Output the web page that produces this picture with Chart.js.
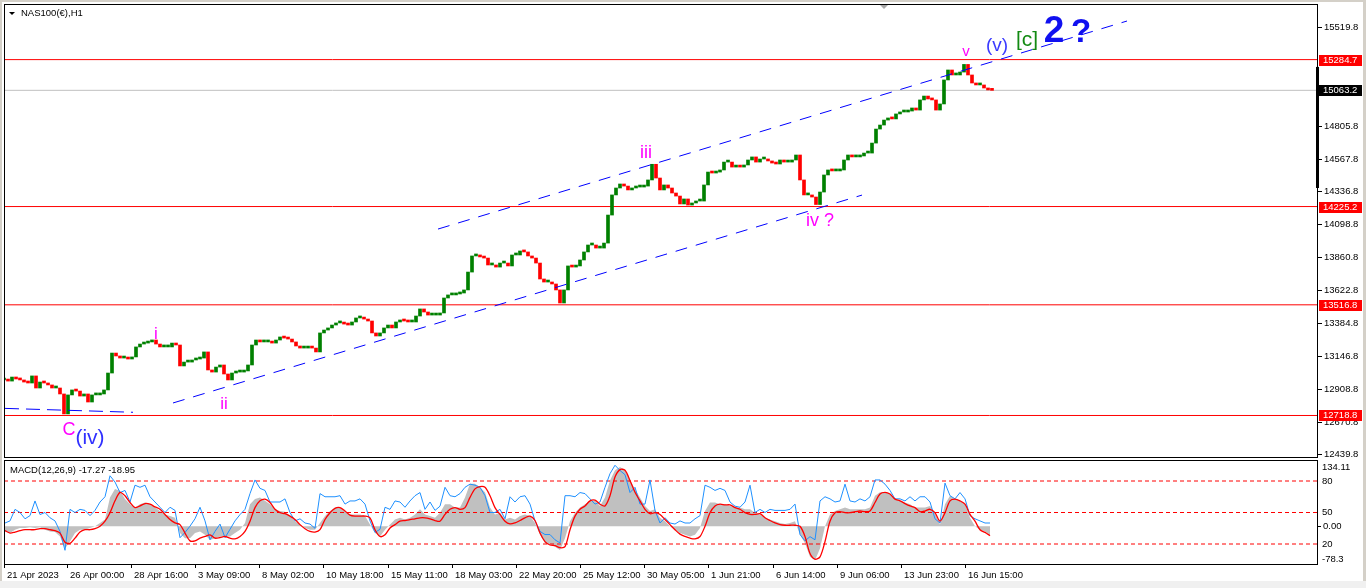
<!DOCTYPE html>
<html>
<head>
<meta charset="utf-8">
<script src="https://cdn.jsdelivr.net/npm/chart.js@4.4.1/dist/chart.umd.min.js"></script>
<style>
  html, body { margin: 0; padding: 0; background: #fff; width: 1366px; height: 588px; overflow: hidden; }
  #wrap { position: relative; width: 1366px; height: 588px; }
  #priceBox { position: absolute; left: 0; top: 0; width: 1366px; height: 460px; }
  #macdBox { position: absolute; left: 0; top: 458px; width: 1366px; height: 123px; }
  .edge { position: absolute; background: #d4d0c8; }
</style>
</head>
<body>
<div id="wrap">
  <div id="priceBox"><canvas id="priceChart"></canvas></div>
  <div id="macdBox"><canvas id="macdChart"></canvas></div>
  <div class="edge" style="left:0;top:0;width:2px;height:588px"></div>
  <div class="edge" style="left:0;top:0;width:1366px;height:2px"></div>
  <div class="edge" style="left:1363px;top:0;width:3px;height:588px"></div>
  <div class="edge" style="left:0;top:581px;width:1366px;height:7px;background:#f0f0f0"></div>
</div>
<script>
// NAS100(€) H1 – price panel, closes read every 4 bars
const BAR_STEP = 4;
const CLOSES = [
  12975, 12967, 12996, 12982, 12975, 12960, 12953, 13004, 12917, 12960,
  12953, 12939, 12917, 12917, 12874, 12730, 12867, 12903, 12895, 12859,
  12874, 12816, 12867, 12867, 12874, 12903, 13025, 13169, 13148, 13133,
  13133, 13126, 13141, 13213, 13234, 13241, 13249, 13263, 13234, 13213,
  13213, 13213, 13241, 13227, 13076, 13104, 13104, 13119, 13126, 13133,
  13177, 13047, 13032, 13068, 13083, 13018, 12975, 13025, 13032, 13032,
  13040, 13083, 13227, 13263, 13249, 13249, 13249, 13241, 13263, 13285,
  13277, 13270, 13249, 13220, 13205, 13205, 13213, 13205, 13177, 13314,
  13335, 13350, 13371, 13386, 13386, 13378, 13371, 13393, 13422, 13422,
  13414, 13400, 13314, 13292, 13314, 13350, 13371, 13350, 13393, 13407,
  13400, 13393, 13393, 13436, 13487, 13465, 13443, 13443, 13443, 13458,
  13566, 13588, 13588, 13595, 13602, 13624, 13753, 13869, 13876, 13862,
  13854, 13804, 13804, 13789, 13818, 13818, 13797, 13876, 13876, 13905,
  13898, 13869, 13854, 13818, 13703, 13681, 13681, 13667, 13624, 13530,
  13624, 13797, 13789, 13797, 13840, 13898, 13948, 13948, 13926, 13926,
  13962, 14164, 14309, 14359, 14388, 14373, 14345, 14359, 14366, 14366,
  14373, 14417, 14530, 14431, 14345, 14381, 14359, 14323, 14301, 14244,
  14280, 14236, 14251, 14265, 14265, 14381, 14474, 14467, 14474, 14489,
  14546, 14546, 14510, 14518, 14510, 14525, 14561, 14583, 14546, 14568,
  14568, 14554, 14539, 14532, 14561, 14546, 14546, 14561, 14597, 14417,
  14309, 14309, 14294, 14240, 14330, 14453, 14489, 14482, 14482, 14489,
  14561, 14597, 14583, 14583, 14590, 14611, 14611, 14683, 14784, 14813,
  14849, 14864, 14857, 14893, 14907, 14907, 14914, 14936, 14921, 14994,
  15022, 15001, 14994, 14921, 14965, 15138, 15210, 15174, 15174, 15195,
  15250, 15174, 15116, 15102, 15102, 15080, 15066, 15063
];
const PRICE_TICKS = [15519.8, 14805.8, 14567.8, 14336.8, 14098.8, 13860.8, 13622.8, 13384.8, 13146.8, 12908.8, 12670.8, 12439.8];
const LEVELS = [15284.7, 14225.2, 13516.8, 12718.8];
const BID = 15063.2;
const PRICE_MIN = 12412.3;
const PRICE_MAX = 15685.7;
const X_MAX = 1314;

// trend lines, [bar index, price]
const LINE_FLAT = [[1, 12770], [129, 12742]];
const LINE_CHANNEL_LOW = [[169, 12809], [858, 14308]];
const LINE_CHANNEL_HIGH = [[434, 14063], [1123, 15563]];

const WAVE_LABELS = [
  { text: 'v', idx: 962, price: 15340, color: '#ff00ff', size: 15 },
  { text: '(v)', idx: 993, price: 15383, color: '#3a3aff', size: 19 },
  { text: '[c]', idx: 1023, price: 15426, color: '#138a13', size: 21 },
  { text: '2', idx: 1050, price: 15484, color: '#1010f0', size: 37, weight: 'bold' },
  { text: '?', idx: 1077, price: 15477, color: '#1010f0', size: 33, weight: 'bold' },
  { text: 'iii', idx: 642, price: 14611, color: '#ff00ff', size: 18 },
  { text: 'iv ?', idx: 816, price: 14121, color: '#ff00ff', size: 18 },
  { text: 'i', idx: 152, price: 13306, color: '#ff00ff', size: 17 },
  { text: 'ii', idx: 220, price: 12802, color: '#ff00ff', size: 17 },
  { text: 'C', idx: 65, price: 12614, color: '#ff00ff', size: 18 },
  { text: '(iv)', idx: 86, price: 12557, color: '#3030ff', size: 21 }
];

// MACD(12,26,9) panel, read every 5 bars
const MACD_STEP = 5;
const MACD_START = 1;
const MACD_MAIN = [
  -10.3, -13.7, -6.9, -3.4, -3.4, -2.1, -3.4, -2.1, -6.9, -10.3,
  -11.7, -20.6, -44.7, -30.9, -13.7, -6.9, -6.9, -3.4, 0, 6.9,
  13.7, 58.4, 75.6, 72.1, 55.0, 44.7, 37.8, 44.7, 48.1, 44.7,
  37.8, 30.9, 24.0, 20.6, 17.2, -13.7, -24.0, -24.0, -13.7, -10.3,
  -17.2, -27.5, -24.0, -20.6, -20.6, -20.6, -13.7, -6.9, 6.9, 44.7,
  55.0, 58.4, 51.5, 44.7, 34.4, 30.9, 29.5, 20.6, 10.3, 3.4,
  -3.4, -6.9, -6.9, 6.9, 20.6, 30.9, 37.8, 37.8, 30.9, 24.0,
  24.0, 24.0, 20.6, 3.4, -13.7, -20.6, -6.9, 3.4, 13.7, 17.2,
  13.7, 17.2, 24.0, 34.4, 24.0, 20.6, 17.2, 27.5, 44.7, 44.7,
  37.8, 37.8, 58.4, 85.9, 85.9, 79.0, 68.7, 37.8, 24.0, 27.5,
  13.7, 17.2, 13.7, 20.6, 24.0, 20.6, 6.9, -17.2, -34.4, -36.4,
  -41.2, -48.1, -24.0, 10.3, 27.5, 37.8, 44.7, 51.5, 51.5, 41.2,
  58.4, 92.7, 113.4, 120.2, 113.4, 92.7, 75.6, 58.4, 41.2, 30.9,
  34.4, 17.2, 10.3, 0, -6.9, -13.7, -17.2, -20.6, -17.2, -3.4,
  30.9, 48.1, 48.1, 44.7, 44.7, 41.2, 37.8, 37.8, 34.4, 34.4,
  27.5, 24.0, 17.2, 13.7, 10.3, 6.9, 4.8, 6.9, 10.3, -17.2,
  -34.4, -61.8, -68.7, -44.7, 0, 24.0, 30.9, 34.4, 37.8, 34.4,
  34.4, 34.4, 34.4, 37.8, 61.8, 68.7, 68.7, 65.3, 55.0, 51.5,
  48.1, 44.7, 37.8, 37.8, 37.8, 41.2, 27.5, 3.4, 44.7, 61.8,
  55.0, 51.5, 44.7, 17.2, 0, -6.9, -10.3, -17.3
];
const MACD_SIGNAL = [
  -8.9, -13.7, -11.7, -8.9, -6.9, -6.9, -6.9, -4.8, -4.8, -6.9,
  -8.9, -13.7, -32.3, -34.4, -24.0, -11.7, -6.9, -6.9, -4.8, 0,
  10.3, 27.5, 51.5, 68.7, 61.8, 48.1, 37.8, 41.2, 46.0, 44.7,
  39.2, 34.4, 24.0, 13.7, 6.9, 3.4, -13.7, -29.5, -29.5, -24.0,
  -20.6, -17.2, -24.0, -22.7, -20.6, -24.0, -25.4, -20.6, -10.3, 10.3,
  37.8, 51.5, 55.0, 48.1, 34.4, 27.5, 25.4, 20.6, 13.7, 3.4,
  -4.8, -10.3, -11.7, -6.9, 13.7, 27.5, 36.4, 37.8, 30.9, 22.7,
  20.6, 20.6, 20.6, 17.2, -6.9, -20.6, -17.2, -3.4, 3.4, 10.3,
  11.7, 13.7, 15.1, 17.2, 17.2, 15.1, 11.7, 10.3, 24.0, 34.4,
  37.8, 34.4, 37.8, 58.4, 75.6, 80.4, 79.0, 61.8, 37.8, 24.0,
  10.3, 4.8, 6.9, 11.7, 17.2, 20.6, 11.7, -13.7, -30.9, -37.8,
  -39.2, -43.3, -41.2, -6.9, 20.6, 34.4, 41.2, 51.5, 52.9, 44.7,
  41.2, 61.8, 99.6, 114.7, 113.4, 92.7, 68.7, 51.5, 34.4, 25.4,
  27.5, 24.0, 13.7, 3.4, -6.9, -15.8, -20.6, -24.0, -25.4, -20.6,
  0, 27.5, 41.2, 44.7, 43.3, 43.3, 37.8, 34.4, 27.5, 24.0,
  24.0, 25.4, 17.2, 11.7, 6.9, 3.4, 2.1, 2.1, 2.1, 0,
  -20.6, -55.0, -66.6, -61.8, -30.9, 10.3, 27.5, 29.5, 27.5, 27.5,
  29.5, 30.9, 29.5, 30.9, 48.1, 65.3, 68.7, 65.3, 55.0, 51.5,
  46.0, 41.2, 37.8, 29.5, 30.9, 34.4, 27.5, 10.3, 27.5, 51.5,
  55.0, 51.5, 44.7, 24.0, 10.3, -6.9, -12.4, -19.0
];
// blue oscillator on 0..100 scale
const OSC = [
  40, 42, 53, 50, 44, 47, 61, 48, 50, 45,
  42, 32, 14, 53, 50, 53, 52, 47, 52, 60,
  65, 85, 79, 69, 71, 60, 76, 74, 76, 65,
  60, 55, 50, 55, 52, 26, 31, 37, 44, 55,
  42, 24, 32, 39, 26, 34, 42, 48, 53, 68,
  81, 73, 71, 60, 60, 60, 63, 50, 42, 44,
  40, 39, 35, 68, 65, 65, 65, 66, 58, 61,
  61, 63, 58, 42, 31, 34, 55, 53, 61, 60,
  55, 61, 66, 69, 53, 60, 52, 56, 74, 66,
  65, 68, 74, 77, 76, 74, 66, 50, 50, 53,
  44, 65, 60, 65, 66, 58, 42, 32, 29, 29,
  24, 21, 66, 66, 65, 69, 68, 63, 58, 60,
  74, 87, 95, 90, 86, 69, 74, 58, 58, 81,
  52, 40, 45, 40, 39, 42, 40, 40, 44, 47,
  76, 74, 71, 73, 71, 60, 56, 55, 60, 76,
  50, 53, 50, 53, 52, 52, 52, 53, 58, 29,
  23, 27, 24, 61, 65, 63, 60, 61, 77, 61,
  60, 63, 61, 65, 81, 81, 77, 71, 63, 63,
  61, 65, 61, 65, 65, 60, 44, 40, 78, 66,
  63, 69, 63, 47, 44, 42, 40, 40
];
const MACD_MIN = -78.3;
const MACD_MAX = 134.11;
const OSC_LEVELS = [20, 50, 80];

const TIME_TICKS = [0, 63, 127, 191, 255, 319, 384, 448, 512, 576, 640, 704, 769, 833, 897, 961];
const TIME_LABELS = ['21 Apr 2023', '26 Apr 00:00', '28 Apr 16:00', '3 May 09:00', '8 May 02:00', '10 May 18:00',
  '15 May 11:00', '18 May 03:00', '22 May 20:00', '25 May 12:00', '30 May 05:00', '1 Jun 21:00',
  '6 Jun 14:00', '9 Jun 06:00', '13 Jun 23:00', '16 Jun 15:00'];

const FAMILY = '"Liberation Sans", Arial, sans-serif';
const font = (size, weight) => `${weight || 'normal'} ${size}px ${FAMILY}`;
const BULL = '#008000';
const BEAR = '#ff0000';

// ── candles ───────────────────────────────────────────────
const candles = CLOSES.map((c, i) => ({ x: i * BAR_STEP, y: [i ? CLOSES[i - 1] : c, c] }));
const candleColors = candles.map(d => (d.y[1] >= d.y[0] ? BULL : BEAR));

const seg = (pts) => pts.map(p => ({ x: p[0], y: p[1] }));
const hline = (v) => [{ x: 0, y: v }, { x: X_MAX, y: v }];

const lineDs = (data, color, extra) => Object.assign({
  type: 'line', data, borderColor: color, borderWidth: 1, pointRadius: 0, tension: 0, fill: false
}, extra || {});

const priceDecor = {
  id: 'priceDecor',
  afterDatasetsDraw(chart) {
    const { ctx, scales: { x, y } } = chart;
    ctx.save();
    ctx.textAlign = 'center';
    ctx.textBaseline = 'middle';
    WAVE_LABELS.forEach(l => {
      ctx.font = font(l.size, l.weight);
      ctx.fillStyle = l.color;
      ctx.fillText(l.text, x.getPixelForValue(l.idx), y.getPixelForValue(l.price));
    });
    ctx.restore();
  },
  afterDraw(chart) {
    const { ctx, chartArea: a, scales: { x, y } } = chart;
    ctx.save();
    // frame
    ctx.strokeStyle = '#000';
    ctx.lineWidth = 1;
    ctx.strokeRect(a.left + 0.5, a.top + 0.5, a.right - a.left - 1, a.bottom - a.top - 1);
    // title
    ctx.fillStyle = '#000';
    ctx.beginPath();
    ctx.moveTo(a.left + 5, a.top + 8);
    ctx.lineTo(a.left + 11, a.top + 8);
    ctx.lineTo(a.left + 8, a.top + 11);
    ctx.closePath();
    ctx.fill();
    ctx.font = font(9.5);
    ctx.textBaseline = 'middle';
    ctx.textAlign = 'left';
    ctx.fillText('NAS100(\u20ac),H1', a.left + 17, a.top + 9);
    // chart shift marker
    const sx = x.getPixelForValue(880);
    ctx.fillStyle = '#a8a8a8';
    ctx.beginPath();
    ctx.moveTo(sx - 4, a.top + 1);
    ctx.lineTo(sx + 4, a.top + 1);
    ctx.lineTo(sx, a.top + 5);
    ctx.closePath();
    ctx.fill();
    // scale bar on the right edge
    ctx.fillStyle = '#000';
    const yb1 = y.getPixelForValue(15232), yb2 = y.getPixelForValue(14359);
    ctx.fillRect(a.right - 2, yb1, 3, yb2 - yb1);
    // level boxes
    const box = (v, bg) => {
      const py = Math.round(y.getPixelForValue(v));
      ctx.fillStyle = bg;
      ctx.fillRect(a.right + 1, py - 5, 43, 11);
      ctx.fillStyle = '#fff';
      ctx.font = font(9.5);
      ctx.fillText(v.toFixed(1), a.right + 5, py + 0.5);
    };
    LEVELS.forEach(v => box(v, '#ff0000'));
    box(BID, '#000');
    ctx.restore();
  }
};

new Chart(document.getElementById('priceChart'), {
  type: 'bar',
  data: {
    datasets: [
      lineDs(seg(LINE_FLAT), '#0000ff', { borderDash: [14, 7], order: 0 }),
      lineDs(seg(LINE_CHANNEL_LOW), '#0000ff', { borderDash: [12, 9], order: 0 }),
      lineDs(seg(LINE_CHANNEL_HIGH), '#0000ff', { borderDash: [12, 9], order: 0 }),
      {
        type: 'bar', data: candles, backgroundColor: candleColors,
        barThickness: 3, minBarLength: 2, grouped: false, order: 1
      },
      ...LEVELS.map(v => lineDs(hline(v), '#ff0000', { order: 2 })),
      lineDs(hline(BID), '#c0c0c0', { order: 2 })
    ]
  },
  options: {
    responsive: true,
    maintainAspectRatio: false,
    animation: false,
    layout: { padding: { left: 4, top: 4, right: 0, bottom: 2 } },
    plugins: { legend: { display: false }, tooltip: { enabled: false } },
    scales: {
      x: { type: 'linear', min: 0, max: X_MAX, offset: false, display: false },
      y: {
        position: 'right', min: PRICE_MIN, max: PRICE_MAX,
        afterFit: s => { s.width = 48; s.paddingTop = 0; s.paddingBottom = 0; },
        afterBuildTicks: s => { s.ticks = PRICE_TICKS.map(v => ({ value: v })); },
        ticks: { color: '#000', font: { family: FAMILY, size: 9.5 }, padding: 2, callback: v => (+v).toFixed(1) },
        grid: { drawOnChartArea: false, tickLength: 4, color: '#000' },
        border: { display: false }
      }
    }
  },
  plugins: [priceDecor]
});

// ── MACD panel ────────────────────────────────────────────
const macdPts = (arr) => arr.map((v, i) => ({ x: MACD_START + i * MACD_STEP, y: v }));

const macdDecor = {
  id: 'macdDecor',
  afterDraw(chart) {
    const { ctx, chartArea: a, scales: { y, y2 } } = chart;
    ctx.save();
    ctx.strokeStyle = '#000';
    ctx.lineWidth = 1;
    ctx.strokeRect(a.left + 0.5, a.top + 0.5, a.right - a.left - 1, a.bottom - a.top - 1);
    ctx.fillStyle = '#000';
    ctx.font = font(9.5);
    ctx.textAlign = 'left';
    ctx.textBaseline = 'middle';
    ctx.fillText('MACD(12,26,9) -17.27 -18.95', a.left + 6, a.top + 10);
    const lx = a.right + 4;
    ctx.textBaseline = 'top';
    ctx.fillText(MACD_MAX.toFixed(2), lx, a.top + 3);
    ctx.textBaseline = 'bottom';
    ctx.fillText(MACD_MIN.toFixed(1), lx, a.bottom - 1);
    ctx.textBaseline = 'middle';
    ctx.fillText('0.00', lx + 1, y.getPixelForValue(0));
    ctx.fillRect(a.right, Math.round(y.getPixelForValue(0)), 3, 1);
    OSC_LEVELS.forEach(v => ctx.fillText(String(v), lx, y2.getPixelForValue(v)));
    ctx.restore();
  }
};

new Chart(document.getElementById('macdChart'), {
  type: 'line',
  data: {
    datasets: [
      lineDs(macdPts(MACD_SIGNAL), '#ff0000', { yAxisID: 'y', borderWidth: 1.3, tension: 0.3, order: 0 }),
      lineDs(macdPts(OSC), '#1e90ff', { yAxisID: 'y2', order: 1 }),
      ...OSC_LEVELS.map(v => lineDs(hline(v), '#ff0000', { yAxisID: 'y2', borderDash: [4, 3], order: 2 })),
      lineDs(macdPts(MACD_MAIN), 'rgba(0,0,0,0)', {
        yAxisID: 'y', borderWidth: 0, backgroundColor: '#c0c0c0', fill: 'origin', order: 3
      })
    ]
  },
  options: {
    responsive: true,
    maintainAspectRatio: false,
    animation: false,
    layout: { padding: { left: 4, top: 2, right: 0, bottom: 0 } },
    plugins: { legend: { display: false }, tooltip: { enabled: false } },
    scales: {
      x: {
        type: 'linear', min: 0, max: X_MAX, offset: false,
        afterFit: s => { s.height = 16; s.paddingLeft = 0; s.paddingRight = 0; },
        afterBuildTicks: s => { s.ticks = TIME_TICKS.map(v => ({ value: v })); },
        ticks: {
          autoSkip: false, maxRotation: 0, align: 'start', padding: 2, labelOffset: 3, color: '#000',
          font: { family: FAMILY, size: 9.5 },
          callback: (v, i) => TIME_LABELS[i]
        },
        grid: { drawOnChartArea: false, tickLength: 3, color: '#000' },
        border: { display: false }
      },
      y: {
        position: 'right', min: MACD_MIN, max: MACD_MAX,
        afterFit: s => { s.width = 48; s.paddingTop = 0; s.paddingBottom = 0; },
        ticks: { display: false }, grid: { display: false }, border: { display: false }
      },
      y2: { display: false, min: 0, max: 100 }
    }
  },
  plugins: [macdDecor]
});
</script>
</body>
</html>
